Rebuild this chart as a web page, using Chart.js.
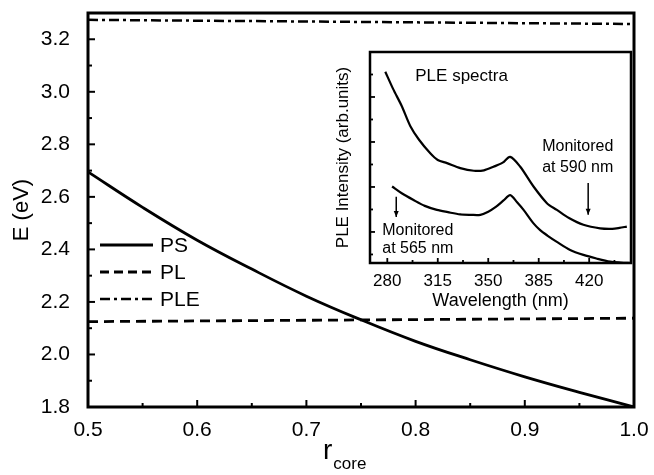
<!DOCTYPE html>
<html>
<head>
<meta charset="utf-8">
<script src="https://cdn.jsdelivr.net/npm/chart.js@4.4.0/dist/chart.umd.min.js"></script>
<style>
  body { margin: 0; background: #fff; }
  #wrap { position: relative; width: 654px; height: 475px; overflow: hidden; }
  #mainChart { position: absolute; left: 0; top: 0; }
  #insetChart { position: absolute; left: 330px; top: 40px; }
  #xTitle { position: absolute; left: 323px; top: 436px; font-family: "Liberation Sans", Arial, sans-serif;
            font-size: 28px; line-height: 28px; color: #000; }
  #xTitle sub { font-size: 17px; vertical-align: -10px; margin-left: 1px; }
</style>
</head>
<body>
<div id="wrap">
  <canvas id="mainChart" width="654" height="475"></canvas>
  <canvas id="insetChart" width="310" height="272"></canvas>
  <div id="xTitle">r<sub>core</sub></div>
</div>
<script>
// main plot: E vs r_core
const rCore = [0.50, 0.55, 0.60, 0.65, 0.70, 0.75, 0.80, 0.85, 0.90, 0.95, 1.00];
const psEnergy = [2.695, 2.56, 2.435, 2.325, 2.222, 2.132, 2.05, 1.98, 1.915, 1.856, 1.80];
const rEnds = [0.5, 1.0];
const plEnergy = [2.125, 2.138];
const pleEnergy = [3.274, 3.258];

const rTicks = [0.5, 0.6, 0.7, 0.8, 0.9, 1.0];
const rMinor = [0.55, 0.65, 0.75, 0.85, 0.95];
const eTicks = [1.8, 2.0, 2.2, 2.4, 2.6, 2.8, 3.0, 3.2];
const eMinor = [1.9, 2.1, 2.3, 2.5, 2.7, 2.9, 3.1];

// inset: PLE spectra
const upperWl = [278.6, 284, 290, 296, 302, 309.8, 315, 321.4, 330.6, 340, 347, 353.7, 360, 365.2, 372.2, 381.4, 390.7, 397.6, 406, 416, 427.6, 436, 441, 446.1];
const upperInt = [4.56, 4.18, 3.80, 3.35, 3.05, 2.75, 2.60, 2.53, 2.42, 2.36, 2.37, 2.45, 2.54, 2.67, 2.45, 2.01, 1.64, 1.49, 1.31, 1.16, 1.08, 1.07, 1.09, 1.12];
const lowerWl = [283.3, 290, 298.2, 306, 314.4, 322, 330.6, 338, 344.5, 350, 355, 360.6, 365.2, 370, 374.5, 381.4, 386, 391, 397.6, 406.8, 416, 425, 434.5, 442, 449];
const lowerInt = [2.01, 1.86, 1.71, 1.58, 1.49, 1.44, 1.39, 1.38, 1.38, 1.45, 1.55, 1.70, 1.82, 1.66, 1.49, 1.19, 1.04, 0.92, 0.78, 0.60, 0.49, 0.41, 0.34, 0.32, 0.31];

const wlTicks = [280, 315, 350, 385, 420];
const wlMinor = [297.5, 332.5, 367.5, 402.5, 437.5];
const intTicks = [1, 2, 3, 4];
const intMinor = [0.5, 1.5, 2.5, 3.5, 4.5];

const FONT = "'Liberation Sans', Arial, sans-serif";
Chart.defaults.font.family = FONT;
Chart.defaults.color = '#000';

const pts = (xs, ys) => xs.map((x, i) => ({ x: x, y: ys[i] }));

// fixed axis sizes, no extra padding from tick labels
const fixY = w => s => { s.width = w; s.paddingTop = 0; s.paddingBottom = 0; };
const fixX = h => s => { s.height = h; s.paddingLeft = 0; s.paddingRight = 0; };

// inward ticks + box frame
const tickMarks = {
  id: 'tickMarks',
  afterDraw(chart, args, opts) {
    const { ctx, chartArea: a, scales } = chart;
    ctx.save();
    ctx.strokeStyle = '#000';
    ctx.lineWidth = opts.width;
    ['x', 'y'].forEach(id => {
      const s = scales[id];
      const c = opts[id];
      [[c.major, opts.majorLen], [c.minor, opts.minorLen]].forEach(([vals, len]) => {
        vals.forEach(v => {
          const p = s.getPixelForValue(v);
          ctx.beginPath();
          if (id === 'x') { ctx.moveTo(p, a.bottom); ctx.lineTo(p, a.bottom - len); }
          else { ctx.moveTo(a.left, p); ctx.lineTo(a.left + len, p); }
          ctx.stroke();
        });
      });
    });
    ctx.lineWidth = opts.frame;
    ctx.strokeRect(a.left, a.top, a.right - a.left, a.bottom - a.top);
    ctx.restore();
  }
};

// legend drawn inside the plot
const insideLegend = {
  id: 'insideLegend',
  afterDraw(chart, args, opts) {
    const { ctx, chartArea: a } = chart;
    ctx.save();
    ctx.font = opts.font;
    ctx.fillStyle = '#000';
    ctx.textBaseline = 'middle';
    chart.data.datasets.forEach((ds, i) => {
      const y = opts.top + i * opts.step;
      ctx.strokeStyle = '#000';
      ctx.lineWidth = ds.borderWidth;
      ctx.setLineDash(opts.dashes[i]);
      ctx.beginPath();
      ctx.moveTo(a.left + opts.x0, y);
      ctx.lineTo(a.left + opts.x1, y);
      ctx.stroke();
      ctx.setLineDash([]);
      ctx.fillText(ds.label, a.left + opts.textX, y + 1);
    });
    ctx.restore();
  }
};

// text notes and arrows for the inset
const insetNotes = {
  id: 'insetNotes',
  afterDraw(chart, args, opts) {
    const { ctx, scales: { x, y } } = chart;
    ctx.save();
    ctx.fillStyle = '#000';
    ctx.strokeStyle = '#000';
    ctx.textBaseline = 'middle';
    opts.texts.forEach(t => {
      ctx.font = t.font;
      ctx.fillText(t.text, x.getPixelForValue(t.x), y.getPixelForValue(t.y));
    });
    ctx.lineWidth = 1.5;
    opts.arrows.forEach(ar => {
      const px = x.getPixelForValue(ar.x);
      const y0 = y.getPixelForValue(ar.from);
      const y1 = y.getPixelForValue(ar.to);
      ctx.beginPath();
      ctx.moveTo(px, y0);
      ctx.lineTo(px, y1);
      ctx.stroke();
      ctx.beginPath();
      ctx.moveTo(px - 2.5, y1 - 6);
      ctx.lineTo(px + 2.5, y1 - 6);
      ctx.lineTo(px, y1);
      ctx.closePath();
      ctx.fill();
    });
    ctx.restore();
  }
};

new Chart(document.getElementById('mainChart'), {
  type: 'scatter',
  data: {
    datasets: [
      { label: 'PS', data: pts(rCore, psEnergy), showLine: true, borderColor: '#000', borderWidth: 2.8,
        pointRadius: 0, tension: 0.4, fill: false },
      { label: 'PL', data: pts(rEnds, plEnergy), showLine: true, borderColor: '#000', borderWidth: 2.8,
        borderDash: [10, 6], pointRadius: 0, fill: false },
      { label: 'PLE', data: pts(rEnds, pleEnergy), showLine: true, borderColor: '#000', borderWidth: 2.5,
        borderDash: [10, 4, 3, 4], pointRadius: 0, fill: false }
    ]
  },
  options: {
    responsive: false,
    devicePixelRatio: 1,
    animation: false,
    layout: { padding: { left: 0, right: 20, top: 13, bottom: 0 } },
    scales: {
      x: {
        type: 'linear', min: 0.5, max: 1.0,
        afterBuildTicks: s => { s.ticks = rTicks.map(v => ({ value: v })); },
        afterFit: fixX(68),
        ticks: { font: { size: 21 }, padding: 11, maxRotation: 0, callback: v => v.toFixed(1) },
        grid: { display: false, drawTicks: false, tickLength: 0 },
        border: { display: false }
      },
      y: {
        type: 'linear', min: 1.8, max: 3.3,
        afterBuildTicks: s => { s.ticks = eTicks.map(v => ({ value: v })); },
        afterFit: fixY(88),
        ticks: { font: { size: 21 }, padding: 18, callback: v => v.toFixed(1) },
        grid: { display: false, drawTicks: false, tickLength: 0 },
        border: { display: false },
        title: { display: true, text: 'E (eV)', font: { size: 22 }, padding: { top: 9, bottom: 0 } }
      }
    },
    plugins: {
      legend: { display: false },
      tooltip: { enabled: false },
      tickMarks: { width: 2, frame: 3, majorLen: 7, minorLen: 4,
                   x: { major: rTicks, minor: rMinor }, y: { major: eTicks, minor: eMinor } },
      insideLegend: { font: "21px " + FONT, top: 245, step: 27, x0: 12, x1: 65, textX: 72,
                      dashes: [[], [9, 5], [10, 4, 3, 4]] }
    }
  },
  plugins: [tickMarks, insideLegend]
});

new Chart(document.getElementById('insetChart'), {
  type: 'scatter',
  data: {
    datasets: [
      { label: 'Monitored at 590 nm', data: pts(upperWl, upperInt), showLine: true, borderColor: '#000',
        borderWidth: 2.2, pointRadius: 0, tension: 0.3, fill: false },
      { label: 'Monitored at 565 nm', data: pts(lowerWl, lowerInt), showLine: true, borderColor: '#000',
        borderWidth: 2.2, pointRadius: 0, tension: 0.3, fill: false }
    ]
  },
  options: {
    responsive: false,
    devicePixelRatio: 1,
    animation: false,
    layout: { padding: { left: 0, right: 9, top: 12, bottom: 0 } },
    scales: {
      x: {
        type: 'linear', min: 268, max: 449,
        afterBuildTicks: s => { s.ticks = wlTicks.map(v => ({ value: v })); },
        afterFit: fixX(49),
        ticks: { font: { size: 17 }, padding: 8, maxRotation: 0 },
        grid: { display: false, drawTicks: false, tickLength: 0 },
        border: { display: false },
        title: { display: true, text: 'Wavelength (nm)', font: { size: 18 }, padding: { top: 0, bottom: 0 } }
      },
      y: {
        type: 'linear', min: 0.31, max: 5,
        afterFit: fixY(40),
        ticks: { display: false },
        grid: { display: false, drawTicks: false, tickLength: 0 },
        border: { display: false },
        title: { display: true, text: 'PLE Intensity (arb.units)', font: { size: 17 }, padding: { top: 3, bottom: 0 } }
      }
    },
    plugins: {
      legend: { display: false },
      tooltip: { enabled: false },
      tickMarks: { width: 1.8, frame: 2.5, majorLen: 5, minorLen: 3,
                   x: { major: wlTicks, minor: wlMinor }, y: { major: intTicks, minor: intMinor } },
      insetNotes: {
        texts: [
          { text: 'PLE spectra', x: 299.4, y: 4.47, font: "17px " + FONT },
          { text: 'Monitored', x: 387.4, y: 2.89, font: "16px " + FONT },
          { text: 'at 590 nm', x: 387.4, y: 2.44, font: "16px " + FONT },
          { text: 'Monitored', x: 276.5, y: 1.04, font: "16px " + FONT },
          { text: 'at 565 nm', x: 276.5, y: 0.64, font: "16px " + FONT }
        ],
        arrows: [
          { x: 286.2, from: 1.78, to: 1.33 },
          { x: 419.3, from: 2.09, to: 1.38 }
        ]
      }
    }
  },
  plugins: [tickMarks, insetNotes]
});
</script>
</body>
</html>
